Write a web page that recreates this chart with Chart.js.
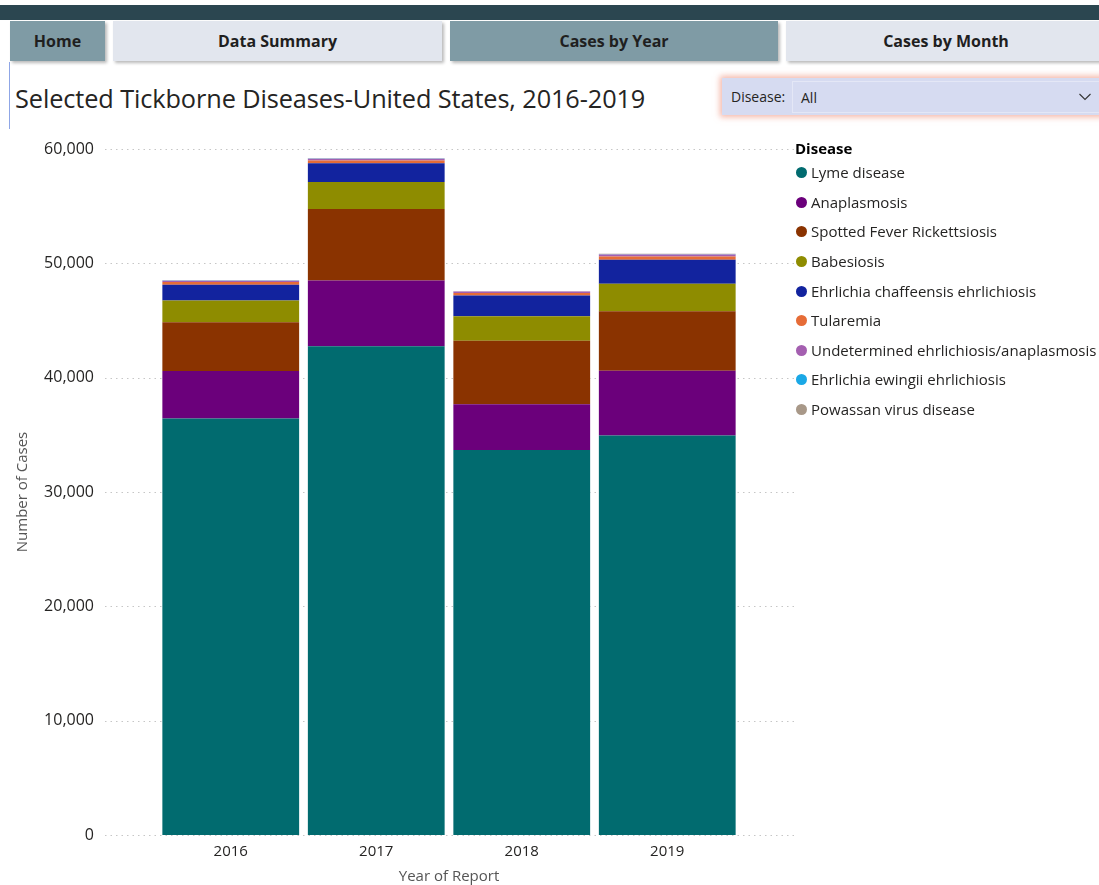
<!DOCTYPE html>
<html>
<head>
<meta charset="utf-8">
<script src="https://cdn.jsdelivr.net/npm/chart.js@4.4.1/dist/chart.umd.min.js"></script>
<style>
  html, body { margin: 0; padding: 0; background: #fff; }
  body { width: 1099px; height: 885px; position: relative; overflow: hidden;
         font-family: "Open Sans", "Noto Sans", "DejaVu Sans", sans-serif; color: #252423; }
  .topbar { position: absolute; left: 0; top: 5px; width: 1099px; height: 15px; background: #2b4650; }
  .nav { position: absolute; top: 21px; height: 40px; display: flex; align-items: center; justify-content: center;
         font-weight: 700; font-size: 16px; color: #1f1f1f; box-shadow: 2px 2px 3px rgba(0,0,0,0.28); }
  .nav.dark { background: #7f9ba5; }
  .nav.light { background: #e2e6ee; }
  .edge { position: absolute; left: 9px; top: 62px; width: 1px; height: 67px; background: #8fa6e6; }
  .title { position: absolute; left: 15px; top: 81px; font-size: 25.3px; color: #252423; white-space: nowrap; letter-spacing: -0.1px; }
  .slicer { position: absolute; left: 722px; top: 78px; width: 390px; height: 37px; background: #d6dbf1;
            box-shadow: 0 0 6px 2px rgba(235,120,95,0.55); font-size: 14px; color: #252423; }
  .slicer .lab { position: absolute; left: 9px; top: 9px; }
  .slicer .box { position: absolute; left: 70px; top: 3px; width: 330px; height: 30px; border: 1px solid #e4e7f6; }
  .slicer .val { position: absolute; left: 79px; top: 10px; }
  .slicer .chev { position: absolute; left: 357px; top: 15px; width: 12px; height: 8px; }
  #wrap { position: absolute; left: 0; top: 130px; width: 800px; height: 755px; }
  #c { display: block; width: 800px; height: 755px; }
  .legend { position: absolute; left: 795px; top: 138px; font-size: 15px; color: #252423; }
  .legend .lt { font-weight: 700; font-size: 15px; height: 20px; line-height: 20px; color: #000; }
  .legend .it { height: 29.6px; line-height: 29px; white-space: nowrap; display: flex; align-items: center; }
  .legend .dot { width: 11px; height: 11px; border-radius: 50%; margin-left: 1px; margin-right: 4px; flex: none; }
</style>
</head>
<body>
<div class="topbar"></div>
<div class="nav dark" style="left:10px;width:95px;">Home</div>
<div class="nav light" style="left:113px;width:329px;">Data Summary</div>
<div class="nav dark" style="left:450px;width:328px;">Cases by Year</div>
<div class="nav light" style="left:786px;width:320px;">Cases by Month</div>
<div class="edge"></div>
<div class="title">Selected Tickborne Diseases-United States, 2016-2019</div>
<div class="slicer">
  <span class="lab">Disease:</span>
  <div class="box"></div>
  <span class="val">All</span>
  <svg class="chev" viewBox="0 0 12 8"><polyline points="0.5,1 6,6.5 11.5,1" fill="none" stroke="#333" stroke-width="1.1"/></svg>
</div>
<div id="wrap"><canvas id="c" width="800" height="755"></canvas></div>
<div class="legend" id="legend"></div>

<script>
// Reported cases by year of report
const years = ["2016", "2017", "2018", "2019"];

const diseases = [
  "Lyme disease",
  "Anaplasmosis",
  "Spotted Fever Rickettsiosis",
  "Babesiosis",
  "Ehrlichia chaffeensis ehrlichiosis",
  "Tularemia",
  "Undetermined ehrlichiosis/anaplasmosis",
  "Ehrlichia ewingii ehrlichiosis",
  "Powassan virus disease"
];

const lyme          = [36429, 42743, 33666, 34945];
const anaplasmosis  = [4151, 5762, 4008, 5655];
const spottedFever  = [4269, 6248, 5544, 5207];
const babesiosis    = [1910, 2368, 2161, 2418];
const chaffeensis   = [1377, 1642, 1799, 2093];
const tularemia     = [230, 239, 229, 274];
const undetermined  = [113, 142, 126, 172];
const ewingii       = [10, 24, 14, 32];
const powassan      = [22, 33, 21, 43];

const yTicks = [0, 10000, 20000, 30000, 40000, 50000, 60000];

const seriesValues = [lyme, anaplasmosis, spottedFever, babesiosis, chaffeensis,
                      tularemia, undetermined, ewingii, powassan];
const colors = ["#016b6f", "#6b007b", "#8a3300", "#8e8c00", "#12239e",
                "#e66c37", "#a45fb0", "#1aa8e6", "#a89888"];

// legend
const legendEl = document.getElementById("legend");
legendEl.innerHTML = '<div class="lt">Disease</div>' + diseases.map((d, i) =>
  '<div class="it"><span class="dot" style="background:' + colors[i] + '"></span>' + d + '</div>').join("");

// dotted horizontal guides running wider than the bar area
const dottedGrid = {
  id: "dottedGrid",
  beforeDatasetsDraw(chart) {
    const y = chart.scales.y, ctx = chart.ctx;
    ctx.save();
    ctx.strokeStyle = "#c6c6c6";
    ctx.lineWidth = 1;
    ctx.setLineDash([1.5, 4]);
    y.ticks.forEach(t => {
      const py = Math.round(y.getPixelForValue(t.value)) + 0.5;
      ctx.beginPath();
      ctx.moveTo(105, py);
      ctx.lineTo(795, py);
      ctx.stroke();
    });
    ctx.restore();
  }
};

const fontFam = '"Open Sans", "Noto Sans", sans-serif';

new Chart(document.getElementById("c"), {
  type: "bar",
  data: {
    labels: years,
    datasets: diseases.map((d, i) => ({
      label: d,
      data: seriesValues[i],
      backgroundColor: colors[i],
      borderWidth: 0,
      barPercentage: 0.94,
      categoryPercentage: 1.0
    }))
  },
  options: {
    responsive: false,
    maintainAspectRatio: false,
    animation: false,
    layout: { padding: { left: 14, right: 60, top: 19, bottom: 0 } },
    plugins: { legend: { display: false }, tooltip: { enabled: false } },
    scales: {
      x: {
        stacked: true,
        offset: true,
        grid: { display: false, drawTicks: false },
        border: { display: false },
        ticks: { color: "#252423", font: { family: fontFam, size: 15 }, padding: 8 },
        title: { display: true, text: "Year of Report", color: "#555",
                 font: { family: fontFam, size: 15, lineHeight: 1.05 },
                 padding: { top: 0, bottom: 0 } },
        afterFit(s) { s.height = 50; }
      },
      y: {
        stacked: true,
        min: 0,
        max: 60000,
        afterBuildTicks(s) { s.ticks = yTicks.map(v => ({ value: v })); },
        grid: { display: false, drawTicks: false },
        border: { display: false },
        ticks: {
          color: "#252423",
          font: { family: fontFam, size: 16 },
          padding: 64,
          callback: v => v.toLocaleString("en-US")
        },
        title: { display: true, text: "Number of Cases", color: "#555", font: { family: fontFam, size: 15 },
                 padding: { top: 0, bottom: 0 } },
        afterFit(s) { s.width = 144; s.paddingTop = 10; s.paddingBottom = 10; }
      }
    }
  },
  plugins: [dottedGrid]
});
</script>
</body>
</html>
